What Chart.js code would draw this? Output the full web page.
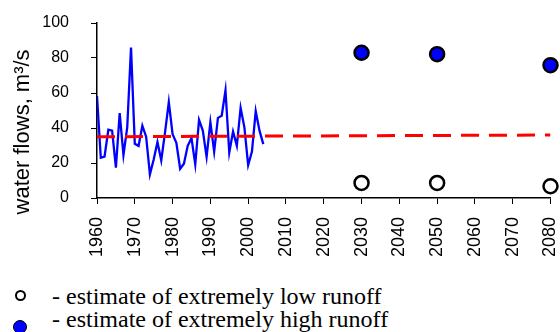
<!DOCTYPE html>
<html>
<head>
<meta charset="utf-8">
<script src="https://cdn.jsdelivr.net/npm/chart.js@4"></script>
<style>
    body { margin: 0; background: #fff; width: 560px; height: 332px; overflow: hidden; position: relative; }
    #wrap { position: absolute; left: 0; top: 0; width: 560px; height: 275px; }
    .txt { position: absolute; left: 52px; font-family: 'Liberation Serif', serif; font-size: 24px; line-height: 24px; color: #000; white-space: nowrap; }
    .dot { position: absolute; border-style: solid; border-color: #000; border-radius: 50%; }
</style>
</head>
<body>
<div id="wrap"><canvas id="chart"></canvas></div>
<span class="dot" style="left: 15px; top: 290px; width: 7px; height: 7px; border-width: 2px; background: #fff;"></span>
<span class="txt" style="top: 284px;">- estimate of extremely low runoff</span>
<span class="dot" style="left: 13px; top: 320px; width: 12px; height: 12px; border-width: 1px; background: #0000ff;"></span>
<span class="txt" style="top: 307px;">- estimate of extremely high runoff</span>
<script>
// observed yearly flows 1960-2004
const years = [];
for (let y = 1960; y <= 2004; y++) years.push(y);
const flows = [58.3, 23, 23.7, 39, 38.5, 17.3, 48.5, 24.6, 40.4, 86,
    31, 29.8, 41.3, 35, 13.5, 22, 32, 21.5, 37.5, 54.8,
    36.5, 31.5, 16.7, 19.6, 29.8, 34.2, 19.2, 44.6, 38.5, 23.5,
    43.3, 26.5, 45.8, 47, 61.5, 26, 38, 29.8, 51.5, 40.4,
    18.8, 26.5, 49.6, 38.5, 30.8];

// mean flow line
const meanYears = [1960, 2080];
const meanFlows = [35, 36];

// estimates
const estYears = [2030, 2050, 2080];
const highRunoff = [83, 82.2, 75.9];
const lowRunoff = [8.6, 8.6, 6.7];

const yTicks = [0, 20, 40, 60, 80, 100];

const toPts = (xs, ys) => xs.map((x, i) => ({ x: x, y: ys[i] }));

// no extra padding from the scales, the layout padding does it
const noPad = scale => {
    scale.paddingLeft = 0;
    scale.paddingRight = 0;
    scale.paddingTop = 0;
    scale.paddingBottom = 0;
};

const ctx = document.getElementById('chart').getContext('2d');
new Chart(ctx, {
    type: 'scatter',
    data: {
        datasets: [
            {
                label: 'high',
                data: toPts(estYears, highRunoff),
                backgroundColor: '#0000ff',
                borderColor: '#000000',
                borderWidth: 2.5,
                pointRadius: 7,
                clip: false,
                order: 0
            },
            {
                label: 'low',
                data: toPts(estYears, lowRunoff),
                backgroundColor: '#ffffff',
                borderColor: '#000000',
                borderWidth: 2.5,
                pointRadius: 7,
                clip: false,
                order: 0
            },
            {
                label: 'mean',
                data: toPts(meanYears, meanFlows),
                showLine: true,
                borderColor: '#ff0000',
                borderWidth: 3,
                borderDash: [18, 10],
                pointRadius: 0,
                order: 1
            },
            {
                label: 'flows',
                data: toPts(years, flows),
                showLine: true,
                borderColor: '#0000ff',
                borderWidth: 2.3,
                pointRadius: 0,
                tension: 0,
                order: 2
            }
        ]
    },
    options: {
        responsive: true,
        maintainAspectRatio: false,
        animation: false,
        layout: { padding: { top: 23, right: 9, left: 0, bottom: 0 } },
        plugins: {
            legend: { display: false },
            tooltip: { enabled: false }
        },
        scales: {
            x: {
                type: 'linear',
                min: 1960,
                max: 2080,
                afterFit: scale => { scale.height = 77; noPad(scale); },
                ticks: {
                    stepSize: 10,
                    maxRotation: 90,
                    minRotation: 90,
                    padding: 13,
                    color: '#000000',
                    callback: v => String(v),
                    font: { size: 18, family: 'Liberation Sans' }
                },
                grid: { drawOnChartArea: false, tickLength: 6, color: '#000000' },
                border: { color: '#000000', width: 1.5 }
            },
            y: {
                min: 0,
                max: 100,
                afterFit: scale => { scale.width = 97; noPad(scale); },
                afterBuildTicks: scale => { scale.ticks = yTicks.map(v => ({ value: v })); },
                ticks: {
                    padding: 22,
                    color: '#000000',
                    font: { size: 16, family: 'Liberation Sans' }
                },
                title: {
                    display: true,
                    // trailing spaces push the title a little down, as in the original
                    text: 'water flows, m\u00b3/s\u00a0\u00a0\u00a0\u00a0\u00a0\u00a0\u00a0',
                    color: '#000000',
                    padding: { top: 10, bottom: 0 },
                    font: { size: 22, family: 'Liberation Sans' }
                },
                grid: { drawOnChartArea: false, tickLength: 6, color: '#000000' },
                border: { color: '#000000', width: 1.5 }
            }
        }
    }
});
</script>
</body>
</html>
